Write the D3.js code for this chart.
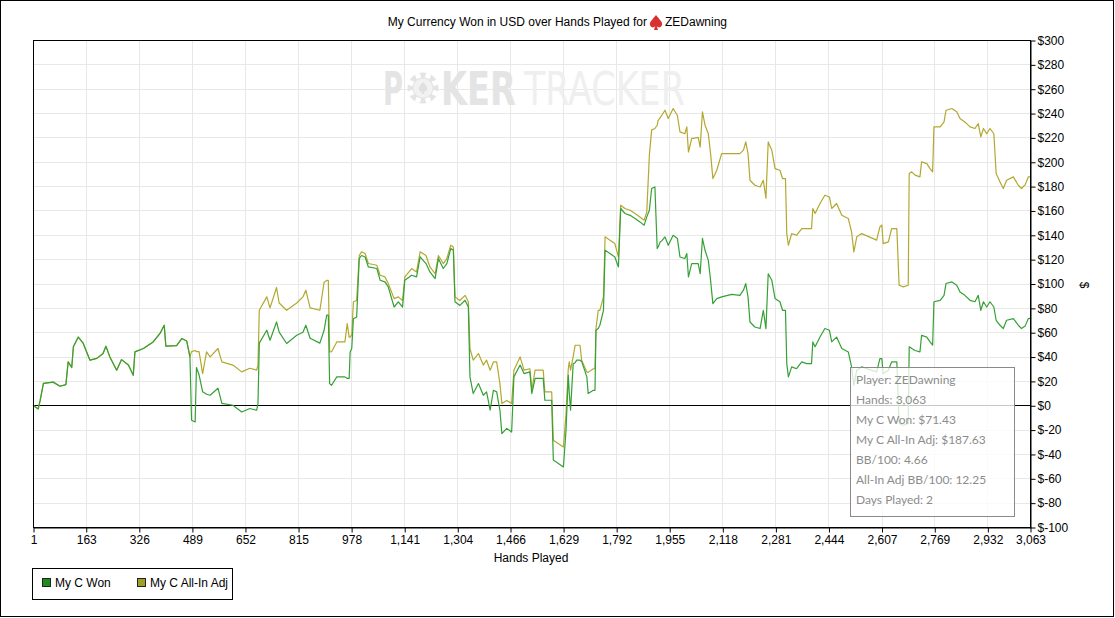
<!DOCTYPE html>
<html>
<head>
<meta charset="utf-8">
<script src="https://cdn.jsdelivr.net/npm/d3@7"></script>
<style>
  body { margin: 0; background: #fff; }
  svg { display: block; font-family: "Liberation Sans", Arial, sans-serif; }
</style>
</head>
<body>
<svg id="chart" width="1115" height="618"></svg>
<script>
// hands played (x) and cumulative results in USD
var hands = [1, 17, 23, 33, 63, 84, 102, 109, 120, 125, 140, 155, 176, 197, 216, 225, 237, 258, 273, 294,
    309, 314, 340, 370, 391, 404, 409, 442, 458, 473, 483, 488, 499, 503, 511, 522, 534, 545, 569, 581,
    615, 642, 667, 688, 692, 696, 719, 729, 749, 757, 780, 811, 830, 839, 852, 882, 895, 903, 908, 912,
    918, 934, 959, 966, 972, 975, 980, 985, 995, 1003, 1010, 1021, 1031, 1057, 1067, 1082, 1092, 1110, 1123, 1136,
    1143, 1164, 1179, 1190, 1208, 1220, 1236, 1246, 1261, 1272, 1284, 1292, 1297, 1312, 1328, 1338, 1343, 1353, 1369, 1384,
    1394, 1405, 1415, 1425, 1435, 1441, 1456, 1471, 1478, 1497, 1509, 1527, 1533, 1543, 1568, 1573, 1594, 1599, 1630, 1638,
    1645, 1648, 1652, 1660, 1666, 1671, 1681, 1686, 1702, 1706, 1722, 1727, 1730, 1737, 1742, 1753, 1758, 1773, 1788, 1799,
    1806, 1819, 1835, 1850, 1865, 1878, 1886, 1894, 1901, 1911, 1918, 1921, 1927, 1932, 1942, 1952, 1967, 1980, 1988, 2003,
    2009, 2014, 2024, 2044, 2050, 2057, 2065, 2075, 2082, 2089, 2101, 2116, 2147, 2172, 2183, 2190, 2197, 2203, 2218, 2234,
    2244, 2252, 2259, 2270, 2280, 2295, 2303, 2312, 2316, 2321, 2331, 2346, 2362, 2377, 2392, 2396, 2403, 2418, 2433, 2447,
    2454, 2469, 2485, 2505, 2515, 2522, 2531, 2546, 2592, 2602, 2608, 2612, 2628, 2638, 2654, 2661, 2674, 2689, 2692, 2700,
    2710, 2725, 2730, 2746, 2756, 2764, 2768, 2787, 2799, 2805, 2823, 2838, 2848, 2863, 2879, 2894, 2904, 2912, 2920, 2930,
    2940, 2952, 2959, 2971, 2981, 2991, 3012, 3027, 3037, 3048, 3058, 3063];

var wonValues = [0, -3, 4, 18, 19, 15.6, 17, 35.6, 31, 48, 56, 51, 37, 38.5, 42.5, 48.5, 39.7, 28.8, 37.5, 33,
    24.6, 43.8, 46.6, 52, 59, 65.7, 48.5, 49, 54.8, 52.8, 39.7, -12.3, -13.7, 31, 25, 11, 9, 8.2, 14, 1.6,
    0, -5.5, -2.7, -4.1, 1.6, 51, 61.6, 53.4, 68.4, 60, 50.7, 57.5, 60, 65.7, 55, 51, 61.6, 74, 74, 17.8,
    16.4, 23.3, 23.3, 22, 22, 43.8, 46.6, 71, 72.5, 120.5, 123, 121.8, 113.6, 112.3, 102.7, 101.3, 97.2, 80.7, 85, 80.7,
    102.7, 106.8, 105.4, 121.8, 116.4, 109.5, 104, 120.5, 112.3, 116.4, 128.7, 127.3, 85, 82, 86.2, 80.7, 23.3, 9.6, 17.8, 8.2,
    11, -4.1, 12.3, 11, -4.1, -23.3, -19, -22, 23.3, 33, 26, 27.4, 9.6, 22, 22, 4.1, 4.1, -45, -50.7, -20.5,
    24.6, 10, -4, 34, 35, 37, 37, 36, 23.3, 9.6, 12.3, 12.3, 61.6, 63, 65.7, 78, 127.3, 124.6, 121.8, 113.6,
    161.6, 157.5, 156, 153.4, 150.6, 147.9, 154.7, 160.2, 178, 179.3, 128.7, 130, 134, 135, 138.3, 131.4, 139.6, 137, 121.8, 120.5,
    124.6, 105.4, 116.4, 116.4, 108, 137, 127.3, 119, 102.7, 83.5, 87.6, 89, 91, 90.3, 94.5, 100, 89, 68.4, 64.3, 63,
    78, 63, 108, 102.7, 87.6, 85, 78, 78, 34.2, 23.3, 31.5, 30, 35.6, 34.2, 34.2, 52, 48, 56, 63, 61.6,
    52, 56, 46.6, 43.8, 31.5, 16.4, 28.8, 31.5, 27.4, 38.3, 38.3, 26, 28.8, 35.6, 35.6, -15, -16.4, -15, 48, 46.6,
    45, 43.8, 57.5, 56, 52, 49.3, 85, 86.2, 90.3, 100, 101.3, 98.6, 93, 90.3, 86.2, 85, 90.3, 78, 85, 80.7,
    85, 80.7, 69.8, 65.7, 63, 69.8, 71.2, 65.7, 63, 65, 71.2, 71.43];

var allInAdjValues = [0, -3, 4, 18, 19, 15.6, 17, 35.6, 31, 48, 56, 51, 37, 38.5, 42.5, 48.5, 39.7, 28.8, 37.5, 33,
    24.6, 43.8, 46.6, 52, 59, 65.7, 48.5, 49, 54.8, 52.8, 39.7, 44, 45, 44, 44, 26, 43.8, 39.7, 46.6, 35.6,
    33, 27.4, 30.4, 28.8, 33, 78, 89, 80, 96.7, 84, 78, 84, 89, 94.5, 80, 78, 101, 102.5, 102.5, 43.8,
    44, 52, 52, 67, 56, 56, 58, 85, 86, 123, 126, 124.6, 116.4, 115, 106.8, 105.4, 100, 87.6, 89, 86,
    105.4, 112.3, 109.5, 126, 123, 113.6, 108, 123, 116.4, 120.5, 131.4, 130, 89, 86, 90.3, 85, 46.6, 37, 42.5, 33,
    37, 28.8, 35.6, 35.6, 17.8, 1.4, 4, 1.4, 28.8, 39.7, 28.8, 30, 12.3, 28.8, 28.8, 11, 11, -28.8, -34.2, -7,
    30, 35.6, 28.8, 40, 49.3, 49.3, 49.3, 37, 27.4, 27, 30, 30, 63, 78, 78, 89, 138.3, 135.6, 132.8, 121.8,
    164.3, 161.6, 160.2, 157.5, 154.7, 152, 158.8, 205.4, 226, 227.3, 230, 234, 236, 238.2, 242.3, 235.5, 243.7, 238, 224.5, 223,
    228.6, 208, 219, 220, 212, 241, 230, 223, 206.7, 186.2, 193, 206.7, 206.7, 206.7, 209.5, 216.3, 206.7, 184.8, 180.7, 179.3,
    184.8, 170, 216.3, 209.5, 194.4, 193, 186.2, 186.2, 141, 131.4, 141, 139.6, 145.1, 145, 145, 161.6, 157.5, 165.7, 172.5, 171,
    161.6, 165.7, 156, 153.4, 142.4, 126, 138.3, 141, 135.6, 146.5, 148, 132.8, 134.2, 145.1, 145.1, 98.6, 97.2, 98.6, 190.3, 191.7,
    189, 187.6, 199.9, 198.5, 194.4, 191.7, 228.6, 228.6, 232.7, 242.3, 243.7, 241, 235.5, 232.7, 228.6, 227.3, 231.4, 220.4, 227.3, 223,
    227.3, 223, 190.3, 183.4, 178, 184.8, 187.6, 180.7, 178, 181, 187.6, 187.63];

var xTicks = [1, 163, 326, 489, 652, 815, 978, 1141, 1304, 1466, 1629, 1792, 1955, 2118, 2281, 2444, 2607, 2769, 2932, 3063];
var yTicks = [-100, -80, -60, -40, -20, 0, 20, 40, 60, 80, 100, 120, 140, 160, 180, 200, 220, 240, 260, 280, 300];

var seriesNames = ["My C Won", "My C All-In Adj"];
var seriesColors = ["#35a035", "#b3a82f"];
var legendColors = ["#1f8c1f", "#a0a025"];

var infoLines = ["Player: ZEDawning", "Hands: 3,063", "My C Won: $71.43", "My C All-In Adj: $187.63",
    "BB/100: 4.66", "All-In Adj BB/100: 12.25", "Days Played: 2"];

var svg = d3.select("#chart");
var plot = {left: 33, top: 40, right: 1030, bottom: 527};

var xScale = d3.scaleLinear().domain([1, 3063]).range([plot.left, plot.right]);
var yScale = d3.scaleLinear().domain([-100, 300]).range([plot.bottom, plot.top]);

// outer frame
svg.append("rect")
    .attr("x", 0.5).attr("y", 0.5)
    .attr("width", 1113).attr("height", 616)
    .attr("fill", "#fff").attr("stroke", "#000");

// title
var title = svg.append("g").attr("font-size", 12).attr("fill", "#000");
title.append("text")
    .attr("x", 647).attr("y", 26)
    .attr("text-anchor", "end")
    .text("My Currency Won in USD over Hands Played for");
var spade = title.append("g").attr("transform", "translate(656,22)");
spade.append("path")
    .attr("d", "M0,-7 C3,-3 7,0 6,3 C5,6 2,6 0.8,4 L2,8 L-2,8 L-0.8,4 C-2,6 -5,6 -6,3 C-7,0 -3,-3 0,-7 Z")
    .attr("fill", "#d93030");
title.append("text")
    .attr("x", 665).attr("y", 26)
    .text("ZEDawning");

// grid
var grid = svg.append("g").attr("stroke", "#e8e8e8").attr("stroke-width", 1);
grid.selectAll(".gx").data(xTicks).enter().append("line")
    .attr("x1", function(d) { return Math.round(xScale(d)) + 0.5; })
    .attr("x2", function(d) { return Math.round(xScale(d)) + 0.5; })
    .attr("y1", plot.top).attr("y2", plot.bottom);
grid.selectAll(".gy").data(yTicks).enter().append("line")
    .attr("y1", function(d) { return Math.round(yScale(d)) + 0.5; })
    .attr("y2", function(d) { return Math.round(yScale(d)) + 0.5; })
    .attr("x1", plot.left).attr("x2", plot.right);

// watermark
var mark = svg.append("g").attr("font-family", "'DejaVu Sans Condensed', 'Liberation Sans Narrow', 'DejaVu Sans', sans-serif");
mark.append("text")
    .attr("x", 383).attr("y", 105)
    .attr("font-size", 46).attr("font-weight", "bold")
    .attr("fill", "#e4e4e4")
    .attr("textLength", 20).attr("lengthAdjust", "spacingAndGlyphs")
    .text("P");
var chip = mark.append("g").attr("transform", "translate(423,88)");
chip.append("circle").attr("r", 15.5).attr("fill", "#e4e4e4");
chip.append("circle").attr("r", 9.5).attr("fill", "#f2f2f2");
chip.selectAll("rect").data(d3.range(8)).enter().append("rect")
    .attr("x", -2.5).attr("y", -15.5).attr("width", 5).attr("height", 5)
    .attr("fill", "#fff")
    .attr("transform", function(d) { return "rotate(" + (d * 45 + 22.5) + ")"; });
chip.append("path")
    .attr("d", "M0,-6 C2.5,-3 5,-1 4,2 C3,4 1.2,4 0.6,3 L1.5,6 L-1.5,6 L-0.6,3 C-1.2,4 -3,4 -4,2 C-5,-1 -2.5,-3 0,-6 Z")
    .attr("fill", "#e0e0e0");
mark.append("text")
    .attr("x", 441).attr("y", 105)
    .attr("font-size", 46).attr("font-weight", "bold")
    .attr("fill", "#e4e4e4")
    .attr("textLength", 75).attr("lengthAdjust", "spacingAndGlyphs")
    .text("KER");
mark.append("text")
    .attr("x", 524).attr("y", 105)
    .attr("font-size", 46)
    .attr("fill", "#efefef")
    .attr("textLength", 161).attr("lengthAdjust", "spacingAndGlyphs")
    .text("TRACKER");

// zero line
svg.append("line")
    .attr("x1", plot.left).attr("x2", plot.right)
    .attr("y1", Math.round(yScale(0)) + 0.5).attr("y2", Math.round(yScale(0)) + 0.5)
    .attr("stroke", "#000");

// series
var seriesData = [wonValues, allInAdjValues];
var line = d3.line()
    .x(function(d, i) { return xScale(hands[i]); })
    .y(function(d) { return yScale(d); });

[1, 0].forEach(function(k) {
    svg.append("path")
        .datum(seriesData[k])
        .attr("d", line)
        .attr("fill", "none")
        .attr("stroke", seriesColors[k])
        .attr("stroke-width", 1.2)
        .attr("stroke-linejoin", "round");
});

// plot frame
svg.append("rect")
    .attr("x", plot.left + 0.5).attr("y", plot.top + 0.5)
    .attr("width", plot.right - plot.left).attr("height", plot.bottom - plot.top)
    .attr("fill", "none").attr("stroke", "#000");

// axes
var xAxis = d3.axisBottom(xScale)
    .tickValues(xTicks)
    .tickSize(5)
    .tickSizeOuter(0)
    .tickFormat(d3.format(","));
var gx = svg.append("g")
    .attr("transform", "translate(0.5," + (plot.bottom + 0.5) + ")")
    .call(xAxis);

var yAxis = d3.axisRight(yScale)
    .tickValues(yTicks)
    .tickSize(5)
    .tickSizeOuter(0)
    .tickFormat(function(d) { return "$" + d; });
var gy = svg.append("g")
    .attr("transform", "translate(" + (plot.right + 0.5) + ",0.5)")
    .call(yAxis);

[gx, gy].forEach(function(g) {
    g.attr("font-family", null).attr("font-size", 12);
    g.selectAll("line, path").attr("stroke", "#000");
    g.selectAll("text").attr("fill", "#000");
});
gx.selectAll("text").attr("dy", "0.75em").attr("y", 7);
gy.selectAll("text").attr("x", 7);

svg.append("text")
    .attr("x", 531).attr("y", 562)
    .attr("text-anchor", "middle")
    .attr("font-size", 12)
    .text("Hands Played");

svg.append("text")
    .attr("transform", "translate(1080,285) rotate(90)")
    .attr("text-anchor", "middle")
    .attr("font-size", 12)
    .text("$");

// info box
var info = svg.append("g");
info.append("rect")
    .attr("x", 850.5).attr("y", 367.5)
    .attr("width", 164).attr("height", 149)
    .attr("fill", "#fff").attr("fill-opacity", 0.78)
    .attr("stroke", "#8a8a8a");
info.selectAll("text").data(infoLines).enter().append("text")
    .attr("x", 856)
    .attr("y", function(d, i) { return 384 + i * 20; })
    .attr("font-family", "Lato, 'Open Sans', sans-serif")
    .attr("font-size", 12)
    .attr("fill", "#8c8c8c")
    .text(function(d) { return d; });

// legend
var legend = svg.append("g");
legend.append("rect")
    .attr("x", 32.5).attr("y", 568.5)
    .attr("width", 200).attr("height", 31)
    .attr("fill", "#fff").attr("stroke", "#000");
var legendX = [42, 137];
seriesNames.forEach(function(name, i) {
    legend.append("rect")
        .attr("x", legendX[i] + 0.5).attr("y", 578.5)
        .attr("width", 8).attr("height", 8)
        .attr("fill", legendColors[i]).attr("stroke", "#222");
    legend.append("text")
        .attr("x", legendX[i] + 13).attr("y", 587)
        .attr("font-size", 12)
        .text(name);
});
</script>
</body>
</html>
